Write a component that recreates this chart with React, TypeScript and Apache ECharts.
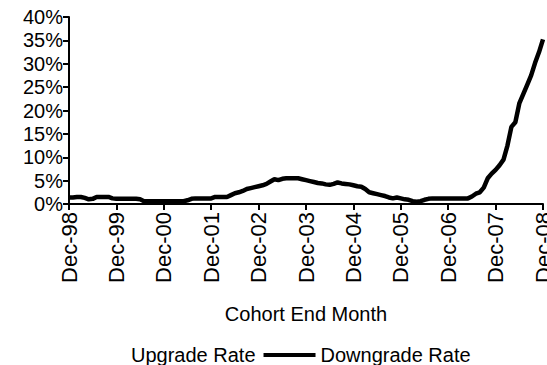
import React, { useEffect, useRef } from "react";
import * as echarts from "echarts";

const MONTHS = ["Jan", "Feb", "Mar", "Apr", "May", "Jun", "Jul", "Aug", "Sep", "Oct", "Nov", "Dec"];
// Cohort end months: Dec-98 .. Dec-08
const categories: string[] = [];
for (let i = 0; i <= 120; i++) {
  const mIdx = (11 + i) % 12;
  const year = 1998 + Math.floor((11 + i) / 12);
  categories.push(`${MONTHS[mIdx]}-${String(year % 100).padStart(2, "0")}`);
}

const yTicks = [0, 5, 10, 15, 20, 25, 30, 35, 40];

const upgradeRate: (number | null)[] = [];

const downgradeRate: number[] = [
  1.4, 1.4, 1.5, 1.5, 1.3, 1.0, 1.1, 1.5, 1.5, 1.5, 1.5, 1.2,
  1.1, 1.1, 1.1, 1.1, 1.1, 1.1, 1.0, 0.6, 0.6, 0.6, 0.6, 0.6,
  0.6, 0.6, 0.6, 0.6, 0.6, 0.6, 0.8, 1.1, 1.2, 1.2, 1.2, 1.2,
  1.2, 1.5, 1.5, 1.5, 1.5, 1.9, 2.3, 2.5, 2.8, 3.2, 3.4, 3.6,
  3.8, 4.0, 4.3, 4.8, 5.3, 5.1, 5.4, 5.5, 5.5, 5.5, 5.5, 5.3,
  5.1, 4.9, 4.7, 4.5, 4.4, 4.2, 4.1, 4.3, 4.6, 4.4, 4.3, 4.2,
  4.0, 3.8, 3.7, 3.2, 2.5, 2.3, 2.1, 1.9, 1.7, 1.4, 1.2, 1.4,
  1.2, 1.0, 0.9, 0.6, 0.5, 0.6, 0.9, 1.1, 1.2, 1.2, 1.2, 1.2,
  1.2, 1.2, 1.2, 1.2, 1.2, 1.2, 1.6, 2.2, 2.5, 3.5, 5.5, 6.5,
  7.3, 8.3, 9.5, 12.5, 16.5, 17.5, 21.5, 23.5, 25.5, 27.5, 30.2, 32.5,
  35.2,
];

const FONT = "Arial, 'Liberation Sans', sans-serif";

export default function App() {
  const ref = useRef<HTMLDivElement>(null);
  useEffect(() => {
    if (!ref.current) return;
    const chart = echarts.init(ref.current, null, { renderer: "svg" });
    chart.setOption({
      animation: false,
      backgroundColor: "#ffffff",
      textStyle: { fontFamily: FONT, color: "#000" },
      grid: { left: 69, right: 4, top: 17, bottom: 161, containLabel: false, outerBoundsMode: "none" },
      legend: {
        left: 69,
        top: 340,
        itemGap: 8,
        itemWidth: 52,
        itemHeight: 4,
        icon: "rect",
        textStyle: { fontFamily: FONT, fontSize: 20, color: "#000" },
        data: [
          { name: "Upgrade Rate", itemStyle: { opacity: 0 } },
          { name: "Downgrade Rate", itemStyle: { color: "#000" } },
        ],
      },
      xAxis: {
        type: "category",
        data: categories,
        boundaryGap: false,
        name: "Cohort End Month",
        nameLocation: "middle",
        nameGap: 100,
        nameTextStyle: { fontFamily: FONT, fontSize: 20, color: "#000" },
        axisLine: { lineStyle: { color: "#000", width: 2 } },
        axisTick: { interval: 11, length: 6, lineStyle: { color: "#000", width: 2 } },
        axisLabel: {
          interval: 11,
          rotate: 90,
          margin: 8,
          fontFamily: FONT,
          fontSize: 22,
          color: "#000",
        },
        splitLine: { show: false },
      },
      yAxis: {
        type: "value",
        min: yTicks[0],
        max: yTicks[yTicks.length - 1],
        interval: 5,
        axisLine: { show: true, lineStyle: { color: "#000", width: 2 } },
        axisTick: { show: true, length: 6, lineStyle: { color: "#000", width: 2 } },
        axisLabel: {
          formatter: "{value}%",
          margin: 6,
          fontFamily: FONT,
          fontSize: 20,
          color: "#000",
        },
        splitLine: { show: false },
      },
      series: [
        {
          name: "Upgrade Rate",
          type: "line",
          data: upgradeRate,
          symbol: "none",
          lineStyle: { color: "#fff", width: 0, opacity: 0 },
          itemStyle: { color: "#fff", opacity: 0 },
        },
        {
          name: "Downgrade Rate",
          type: "line",
          data: downgradeRate,
          symbol: "none",
          lineStyle: { color: "#000", width: 4.5 },
          itemStyle: { color: "#000" },
        },
      ],
    });
    return () => chart.dispose();
  }, []);
  return <div ref={ref} style={{ width: 547, height: 365, position: "absolute", left: 0, top: 0 }} />;
}
